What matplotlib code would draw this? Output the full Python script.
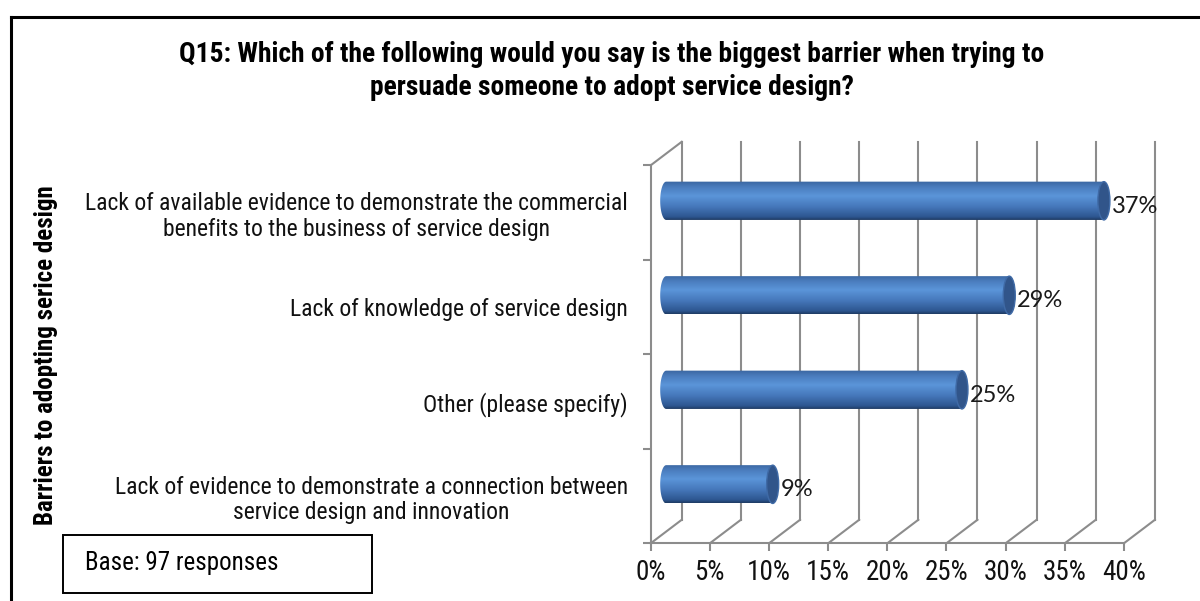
import numpy as np
import matplotlib
matplotlib.use("Agg")
import matplotlib.pyplot as plt
from matplotlib.colors import LinearSegmentedColormap
from matplotlib.patches import Ellipse, Polygon, Rectangle
from matplotlib.lines import Line2D

# survey answers, bottom bar first
categories = [
    "Lack of evidence to demonstrate a connection between\nservice design and innovation",
    "Other (please specify)",
    "Lack of knowledge of service design",
    "Lack of available evidence to demonstrate the commercial\nbenefits to the business of service design",
]
shares = [9, 25, 29, 37]
bar_labels = ["9%", "25%", "29%", "37%"]
pct_ticks = [0, 5, 10, 15, 20, 25, 30, 35, 40]
pct_labels = ["0%", "5%", "10%", "15%", "20%", "25%", "30%", "35%", "40%"]

title_1 = "Q15: Which of the following would you say is the biggest barrier when trying to"
title_2 = "persuade someone to adopt service design?"
y_title = "Barriers to adopting serice design"
base_note = "Base: 97 responses"

NARROW = ["Roboto Condensed", "DejaVu Sans"]
ROUND = ["Lato", "DejaVu Sans"]

W, H = 1200, 601
fig = plt.figure(figsize=(W / 100, H / 100), dpi=100)

# pixel layout of the front plane
X0, PX_PCT = 650.7, 11.83
Y0, PX_BAND = 543.3, 94.5
xlim = (-2.0, 46.0)
ylim = (-0.6, 4.6)
left = (X0 + xlim[0] * PX_PCT) / W
right = (X0 + xlim[1] * PX_PCT) / W
bottom = (H - (Y0 - ylim[0] * PX_BAND)) / H
top = (H - (Y0 - ylim[1] * PX_BAND)) / H
ax = fig.add_axes([left, bottom, right - left, top - bottom])
ax.set_xlim(*xlim)
ax.set_ylim(*ylim)

# depth of the pseudo-3d box
dx = 31 / PX_PCT
dy = 23.5 / PX_BAND
grid_c = "#8c8c8c"

for side in ["top", "right"]:
    ax.spines[side].set_visible(False)
for side in ["left", "bottom"]:
    ax.spines[side].set_color(grid_c)
    ax.spines[side].set_linewidth(1.5)
    ax.spines[side].set_position(("data", 0))
ax.spines["left"].set_bounds(0, 4)
ax.spines["bottom"].set_bounds(0, 40)

ax.set_xticks(pct_ticks)
ax.set_xticklabels(pct_labels, family=NARROW, fontsize=19.5, color="#111111")
ax.set_yticks([0, 1, 2, 3, 4])
ax.set_yticklabels([])
ax.set_yticks([0.5, 1.5, 2.5, 3.5], minor=True)
ax.set_yticklabels(categories, minor=True, family=NARROW, fontsize=17,
                   color="#111111")
for lab in ax.get_yticklabels(minor=True):
    lab.set_multialignment("center")
    lab.set_linespacing(1.15)
ax.tick_params(axis="both", which="major", color=grid_c, width=1.5, length=5.5)
ax.tick_params(axis="x", pad=6)
ax.tick_params(axis="y", which="minor", length=0, pad=16.5)

# back wall gridlines and floor diagonals
for p in pct_ticks:
    ax.plot([p + dx, p + dx], [dy, 4 + dy], color=grid_c, lw=1.5, zorder=1)
    ax.plot([p, p + dx], [0, dy], color=grid_c, lw=1.5, zorder=1)
ax.plot([0, dx], [4, 4 + dy], color=grid_c, lw=1.5, zorder=1)

# cylinder bars
body = LinearSegmentedColormap.from_list("cyl", [
    (0.0, "#1e3a61"), (0.08, "#2d5690"), (0.35, "#4678bb"),
    (0.62, "#5b95d9"), (0.85, "#4a7cbd"), (1.0, "#3a659f"),
])
grad = np.linspace(0, 1, 256).reshape(-1, 1)
bar_h = 38.3 / PX_BAND
cap_w = 12 / PX_PCT
t = np.linspace(np.pi / 2, 3 * np.pi / 2, 40)
for i, (v, txt) in enumerate(zip(shares, bar_labels)):
    yc = i + 0.5 + dy / 2
    x0 = dx / 2
    x1 = v + dx / 2
    y0, y1 = yc - bar_h / 2, yc + bar_h / 2
    outline = np.vstack([
        [[x1, y0], [x1, y1]],
        np.column_stack([x0 + cap_w / 2 * np.cos(t), yc + bar_h / 2 * np.sin(t)]),
    ])
    clip = Polygon(outline, closed=True, transform=ax.transData)
    im = ax.imshow(grad, extent=(x0 - cap_w / 2, x1, y0, y1), origin="lower",
                   aspect="auto", cmap=body, zorder=3, interpolation="bilinear")
    im.set_clip_path(clip)
    ax.add_patch(Ellipse((x1, yc), cap_w, bar_h, facecolor="#31558a",
                         edgecolor="#3f6aa6", lw=1.0, zorder=4))
    ax.text(x1 + cap_w / 2 + 0.15, yc - 0.06, txt, family=ROUND, fontsize=17,
            ha="left", va="center", color="#1a1a1a", zorder=5)

ax.set_xlim(*xlim)
ax.set_ylim(*ylim)

# headings
fig.text(612 / W, 1 - 61.7 / H, title_1, family=NARROW, weight="bold",
         fontsize=19.8, ha="center", va="baseline")
fig.text(612 / W, 1 - 95 / H, title_2, family=NARROW, weight="bold",
         fontsize=19.8, ha="center", va="baseline")
fig.text(46 / W, 1 - 355 / H, y_title, family=NARROW, weight="bold",
         fontsize=18, rotation=90, ha="center", va="center")

# outer frame
fig.add_artist(Line2D([11 / W, 1], [1 - 17 / H, 1 - 17 / H], color="black",
                      lw=2.2, transform=fig.transFigure))
fig.add_artist(Line2D([11 / W, 11 / W], [0, 1 - 17 / H], color="black",
                      lw=2.2, transform=fig.transFigure))

# base note box
fig.add_artist(Rectangle((63.3 / W, 1 - 592.7 / H), (371.7 - 63.3) / W,
                         (592.7 - 535) / H, transform=fig.transFigure,
                         facecolor="white", edgecolor="black", lw=1.4))
fig.text(85 / W, 1 - 563 / H, base_note, family=NARROW, fontsize=18,
         ha="left", va="center")

fig.savefig("out.png", dpi=100)
